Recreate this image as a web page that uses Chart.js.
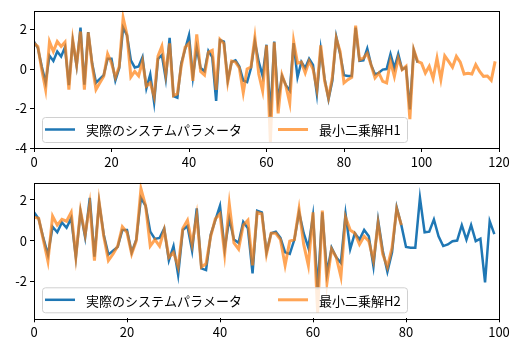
<!DOCTYPE html>
<html lang="ja">
<head>
<meta charset="UTF-8">
<title>最小二乗法によるシステム同定</title>
<script src="https://cdn.jsdelivr.net/npm/chart.js"></script>
<style>
  body { margin: 0; background: #fff; }
  .panel { position: absolute; left: 0; width: 519px; }
</style>
</head>
<body>

<div class="panel" style="top:0;height:172px"><canvas id="chartH1" width="519" height="172"></canvas></div>
<div class="panel" style="top:172px;height:178px"><canvas id="chartH2" width="519" height="178"></canvas></div>

<script>
// 実際のシステムパラメータ (0..99)
const trueParams = [
  1.39, 1.07, 0.13, -0.69, 0.68, 0.41, 0.89, 0.63, 1.10, -0.82,
  1.42, 0.16, 2.10, -0.79, 1.87, 0.29, -0.69, -0.50, -0.31, 0.52,
  0.52, -0.58, 0.05, 2.10, 1.71, 0.44, 0.08, 0.13, 0.60, -0.98,
  -0.27, -1.69, 0.52, 0.71, -0.50, 1.58, -1.37, -1.45, 0.28, 1.00,
  1.71, -0.42, 1.07, 0.05, -0.11, 0.92, 0.60, -1.61, 1.47, 1.39,
  -0.58, 0.36, 0.44, 0.13, -0.58, -0.66, 0.05, 1.39, 0.36, -0.35,
  1.23, -2.40, 1.39, -1.61, -0.35, -0.82, -1.10, 1.31, -0.42, 0.36,
  0.05, 0.52, 0.21, -1.27, 1.00, -0.50, -1.53, -0.58, 1.63, 0.76,
  -0.31, -0.35, -0.35, 2.10, 0.41, 0.44, 1.04, 0.21, -0.27, -0.19,
  -0.03, 0.00, 0.76, 0.05, 0.76, -0.03, 0.09, -2.05, 0.95, 0.32
];

// 最小二乗解H1 (0..119)
const estH1 = [
  1.31, 1.14, -0.03, -1.04, 1.39, 0.89, 1.39, 1.14, 1.36, -1.04,
  1.48, 0.22, 1.90, -1.04, 1.86, 0.22, -1.04, -0.70, -0.37, 0.76,
  0.30, -0.42, 0.13, 2.60, 1.73, -0.40, -0.12, -0.35, 0.39, -0.87,
  -0.70, -1.40, 0.65, 1.15, -0.25, 1.30, -1.35, -1.25, 0.15, 1.10,
  1.30, -0.60, 1.75, -0.12, -0.30, 0.85, 0.95, -1.05, 1.50, 1.30,
  -0.65, 0.40, 0.35, 0.05, -1.20, 0.00, 0.10, 1.60, -0.25, -1.10,
  1.20, -3.70, 1.35, -2.25, -0.30, -0.85, -1.72, 1.40, 0.30, 0.35,
  -0.20, 0.40, 0.00, -1.00, 1.20, -0.60, -1.45, -0.40, 1.56, 0.89,
  -0.70, -0.54, -0.42, 2.20, 0.47, 0.55, 0.80, 0.20, -0.45, -0.20,
  -0.62, -0.70, 0.39, -0.37, 0.55, -0.03, 0.14, -2.54, 0.97, 0.39,
  0.30, -0.20, 0.14, -0.48, 0.55, -0.53, 0.67, 0.39, 0.09, 0.64,
  0.35, -0.25, -0.22, -0.25, 0.22, -0.12, -0.37, -0.35, -0.57, 0.39
];

// 最小二乗解H2 (0..79)
const estH2 = [
  1.15, 1.10, 0.05, -1.01, 1.20, 0.76, 1.04, 0.95, 1.39, -0.79,
  1.47, 0.29, 1.79, -0.98, 1.90, 0.21, -0.98, -0.66, -0.27, 0.68,
  0.40, -0.66, 0.00, 2.55, 1.71, -0.27, 0.05, -0.27, 0.52, -0.82,
  -0.58, -1.30, 0.60, 1.00, -0.19, 1.23, -1.30, -1.14, 0.21, 1.07,
  1.31, -0.66, 1.79, -0.11, -0.42, 0.76, 1.00, -1.22, 1.39, 1.31,
  -0.66, 0.36, 0.36, 0.05, -1.22, -0.03, 0.05, 1.55, -0.19, -1.22,
  1.39, -3.55, 1.47, -2.08, -0.42, -0.82, -1.77, 1.15, 0.52, 0.36,
  -0.19, 0.21, -0.03, -0.98, 0.84, -0.66, -1.30, -0.35, 1.55, 0.76
];

const topXTicks = [0, 20, 40, 60, 80, 100, 120];
const bottomXTicks = [0, 20, 40, 60, 80, 100];
const topYTicks = [-4, -2, 0, 2];
const bottomYTicks = [-2, 0, 2];

const trueLabel = '実際のシステムパラメータ';
const blue = '#1f77b4';
const orange = 'rgba(255,127,14,0.7)';
const FONT = '"Noto Sans CJK JP", "Noto Sans", sans-serif';

const toPoints = arr => arr.map((v, i) => ({ x: i, y: v }));

// 枠線と凡例 (matplotlib風)
const frameLegend = {
  id: 'frameLegend',
  afterDraw(chart, args, opts) {
    const ctx = chart.ctx;
    const a = chart.chartArea;
    ctx.save();
    ctx.strokeStyle = '#000';
    ctx.lineWidth = 1;
    ctx.strokeRect(Math.round(a.left) + 0.5, Math.round(a.top) + 0.5,
                   Math.round(a.right - a.left), Math.round(a.bottom - a.top));

    const h = 25, w = 365;
    const x = a.left + 8, y = a.bottom - 6 - h;
    ctx.beginPath();
    ctx.roundRect(x + 0.5, y + 0.5, w, h, 3);
    ctx.fillStyle = 'rgba(255,255,255,0.8)';
    ctx.fill();
    ctx.strokeStyle = '#d0d0d0';
    ctx.stroke();

    const cy = y + h / 2;
    ctx.font = '13px ' + FONT;
    ctx.textBaseline = 'middle';
    ctx.fillStyle = '#000';
    opts.items.forEach(it => {
      ctx.beginPath();
      ctx.moveTo(x + it.dx, cy);
      ctx.lineTo(x + it.dx + 30, cy);
      ctx.strokeStyle = it.color;
      ctx.lineWidth = it.width;
      ctx.stroke();
      ctx.fillText(it.label, x + it.dx + 41, cy + 1);
    });
    ctx.restore();
  }
};

function makeChart(id, series, label, xMax, xTicks, yMin, yMax, yTicks, padTop, xAxisH) {
  return new Chart(document.getElementById(id), {
    type: 'line',
    data: {
      datasets: [
        { label: label, data: toPoints(series), borderColor: orange, borderWidth: 3,
          pointRadius: 0, tension: 0, order: 0 },
        { label: trueLabel, data: toPoints(trueParams), borderColor: blue, borderWidth: 2.5,
          pointRadius: 0, tension: 0, order: 1 }
      ]
    },
    options: {
      responsive: false,
      animation: false,
      layout: { padding: { left: 0, right: 20, top: padTop, bottom: 0 } },
      plugins: {
        legend: { display: false },
        tooltip: { enabled: false },
        frameLegend: {
          items: [
            { label: trueLabel, color: blue, width: 2.5, dx: 3 },
            { label: label, color: orange, width: 3, dx: 236 }
          ]
        }
      },
      scales: {
        x: {
          type: 'linear', min: 0, max: xMax,
          afterBuildTicks: s => { s.ticks = xTicks.map(v => ({ value: v })); },
          afterFit: s => { s.height = xAxisH; },
          ticks: { color: '#000', font: { size: 13, family: FONT }, padding: 2, maxRotation: 0 },
          grid: { display: true, drawOnChartArea: false, drawTicks: true, tickLength: 4, color: '#000' },
          border: { display: false }
        },
        y: {
          min: yMin, max: yMax,
          afterBuildTicks: s => { s.ticks = yTicks.map(v => ({ value: v })); },
          afterFit: s => { s.width = 34; },
          ticks: { color: '#000', font: { size: 13, family: FONT }, padding: 3 },
          grid: { display: true, drawOnChartArea: false, drawTicks: true, tickLength: 4, color: '#000' },
          border: { display: false }
        }
      }
    },
    plugins: [frameLegend]
  });
}

makeChart('chartH1', estH1, '最小二乗解H1', 120, topXTicks, -4.0, 2.95, topYTicks, 9, 24);
makeChart('chartH2', estH2, '最小二乗解H2', 100, bottomXTicks, -3.82, 2.84, bottomYTicks, 5.7, 31.7);
</script>
</body>
</html>
